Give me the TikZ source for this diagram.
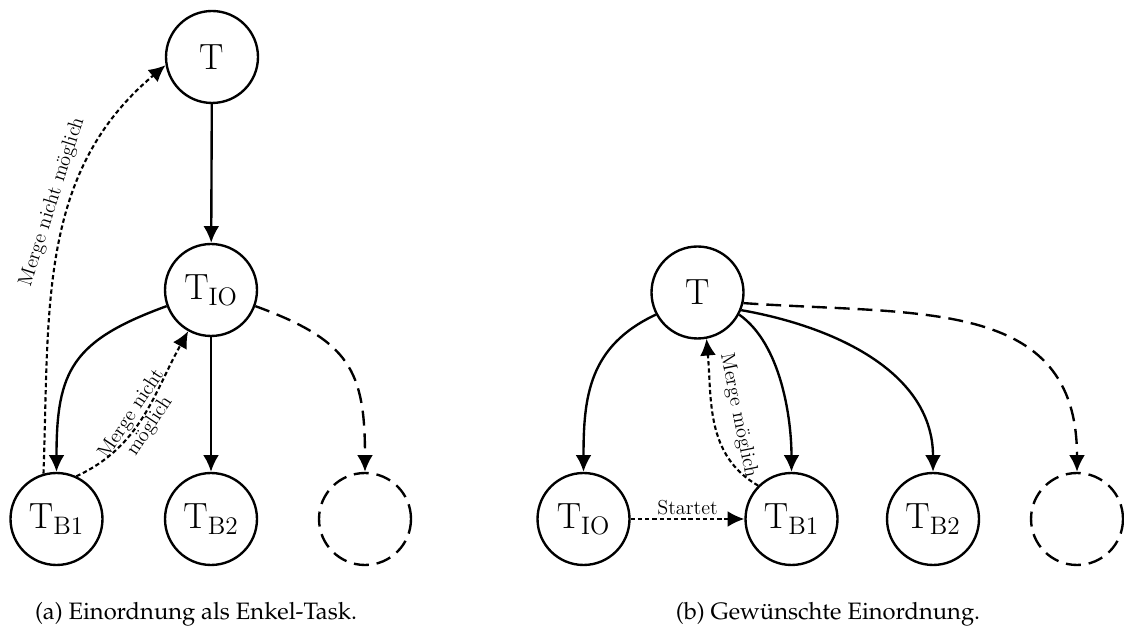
\documentclass[tikz,border=0pt]{standalone}
\usepackage[T1,TU]{fontenc}
\usetikzlibrary{arrows.meta}
\begin{document}
\begin{tikzpicture}[x=0.02cm,y=0.02cm,
  task/.style={circle,draw,line width=1.35pt,minimum size=1.84cm,inner sep=0pt,
    font=\fontsize{20.74}{25}\selectfont},
  ghost/.style={task,dash pattern=on 8.5pt off 4.5pt},
  edge/.style={line width=1.35pt,-{Latex[length=9.5pt,width=9pt]}},
  future/.style={edge,dash pattern=on 8.5pt off 4.5pt},
  merge/.style={line width=1.2pt,dash pattern=on 2.5pt off 1.6pt,
    -{Latex[length=9.5pt,width=9pt]}},
  lbl/.style={font=\fontsize{11.5}{12.5}\selectfont},
  captext/.style={font=\fontencoding{T1}\fontfamily{ppl}\fontsize{13.5}{16}\selectfont}
]
\useasboundingbox (0,0) rectangle (1124,631);

% (a) task inserted as grandchild
\node[task] (lt)   at (212,574) {T};
\node[task] (ltio) at (211,341) {$\mathrm{T}_{\mathrm{IO}}$};
\node[task] (lb1)  at (56.5,112) {$\mathrm{T}_{\mathrm{B1}}$};
\node[task] (lb2)  at (211,112) {$\mathrm{T}_{\mathrm{B2}}$};
\node[ghost] (ld)  at (365,112) {};

\draw[edge] (lt) -- (ltio);
\draw[edge] (ltio) to[out=200,in=90,looseness=1.3] (lb1);
\draw[edge] (ltio) -- (lb2);
\draw[future] (ltio) to[out=-20,in=90,looseness=1.3] (ld);
\draw[merge] (lb1.106) to[out=88,in=220]
  node[lbl,above=1pt,sloped,pos=0.6] {Merge nicht möglich} (lt.190);
\draw[merge] (lb1.65) to[out=25,in=241]
  node[lbl,sloped,align=center,pos=0.47] {Merge nicht\\möglich} (ltio.241);

% (b) desired placement
\node[task] (rt)   at (697.5,338.5) {T};
\node[task] (rtio) at (583.5,112) {$\mathrm{T}_{\mathrm{IO}}$};
\node[task] (rb1)  at (791.5,112) {$\mathrm{T}_{\mathrm{B1}}$};
\node[task] (rb2)  at (933,112) {$\mathrm{T}_{\mathrm{B2}}$};
\node[ghost] (rd)  at (1077,112) {};

\draw[edge] (rt.208) to[out=205,in=90,looseness=1.1] (rtio);
\draw[edge] (rt.-28) to[out=-35,in=90,looseness=0.8] (rb1);
\draw[edge] (rt.-22) to[out=-10,in=90] (rb2);
\draw[future] (rt.-13) to[out=-4,in=90,looseness=1.2] (rd);
\draw[merge] (rtio) -- node[lbl,above,inner sep=1.5pt] {Startet} (rb1);
\draw[merge] (rb1.135) to[out=150,in=275]
  node[lbl,above=5pt,sloped,pos=0.52] {Merge möglich} (rt.281);

% captions
\node[captext,anchor=base] (capa) at (196,11) {(a) Einordnung als Enkel-Task.};
\node[captext,anchor=base] (capb) at (828,11) {(b) Gew\"unschte Einordnung.};
\end{tikzpicture}
\end{document}
